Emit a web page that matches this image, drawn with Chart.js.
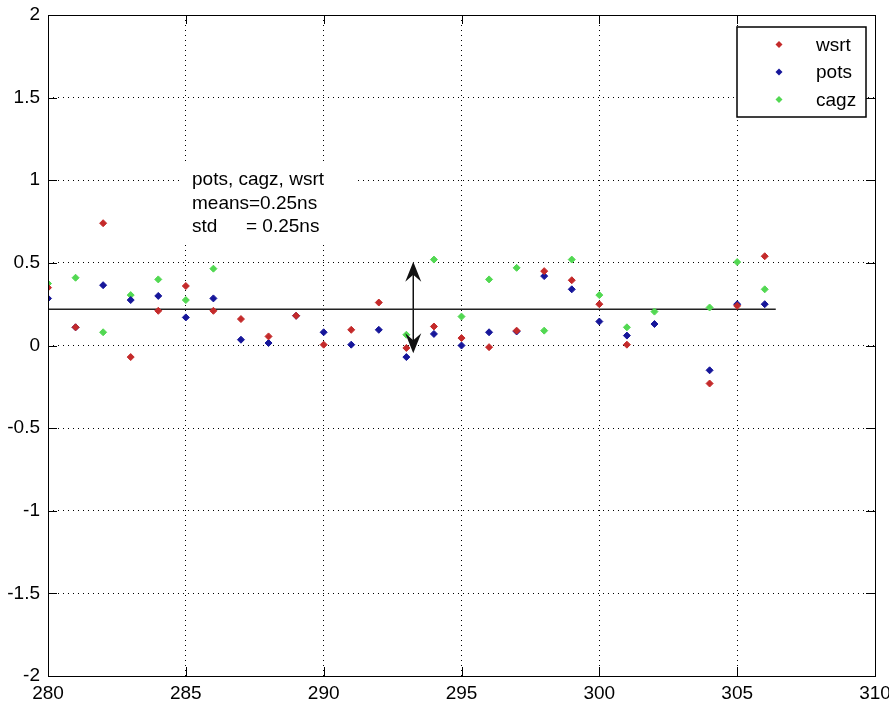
<!DOCTYPE html>
<html>
<head>
<meta charset="utf-8">
<script src="https://cdn.jsdelivr.net/npm/chart.js@4.4.1/dist/chart.umd.min.js"></script>
<style>
  html, body { margin: 0; padding: 0; background: #fff; }
  #wrap { width: 889px; height: 704px; }
</style>
</head>
<body>
<div id="wrap"><canvas id="offsetChart"></canvas></div>
<script>
// run numbers on the x axis
var runs = [280, 281, 282, 283, 284, 285, 286, 287, 288, 289, 290, 291, 292, 293,
            294, 295, 296, 297, 298, 299, 300, 301, 302, 303, 304, 305, 306];

// offsets per station (ns), null where a station has no value
var wsrt = [0.35, 0.11, 0.74, -0.07, 0.21, 0.36, 0.21, 0.16, 0.055, 0.18, 0.005, 0.095, 0.26, -0.015,
            0.115, 0.045, -0.01, 0.09, 0.45, 0.395, 0.25, 0.005, null, null, -0.23, 0.24, 0.54];
var pots = [0.285, 0.11, 0.365, 0.275, 0.30, 0.17, 0.285, 0.035, 0.015, 0.18, 0.08, 0.005, 0.095, -0.07,
            0.07, 0.0, 0.08, 0.085, 0.42, 0.34, 0.145, 0.06, 0.13, null, -0.15, 0.25, 0.25];
var cagz = [0.375, 0.41, 0.08, 0.305, 0.40, 0.275, 0.465, null, null, null, null, null, null, 0.065,
            0.52, 0.175, 0.40, 0.47, 0.09, 0.52, 0.305, 0.11, 0.205, null, 0.23, 0.505, 0.34];

var xTicks = [280, 285, 290, 295, 300, 305, 310];
var yTicks = [-2, -1.5, -1, -0.5, 0, 0.5, 1, 1.5, 2];

// mean level line and the spread arrow
var meanLevel = 0.22;
var meanFrom = 280, meanTo = 306.4;
var arrowX = 293.25, arrowLow = -0.047, arrowHigh = 0.507;

var noteLines = ['pots, cagz, wsrt', 'means=0.25ns', 'std', '= 0.25ns'];

function points(values) {
  var out = [];
  runs.forEach(function(x, i) {
    if (values[i] !== null) out.push({ x: x, y: values[i] });
  });
  return out;
}

function marker(label, values, color) {
  return {
    label: label,
    data: points(values),
    backgroundColor: color,
    borderColor: color,
    borderWidth: 1,
    pointStyle: 'rectRot',
    pointRadius: 3.5,
    showLine: false
  };
}

var FONT = "'Liberation Sans', Arial, sans-serif";

var framePlugin = {
  id: 'frame',
  beforeDatasetsDraw: function(chart) {
    // white box behind the note text
    var ctx = chart.ctx;
    ctx.save();
    ctx.fillStyle = '#fff';
    ctx.fillRect(183, 163, 174, 80);
    ctx.restore();
  },
  afterDatasetsDraw: function(chart) {
    var ctx = chart.ctx, xs = chart.scales.x, ys = chart.scales.y;
    ctx.save();

    // arrow heads at both ends of the spread arrow
    var ax = xs.getPixelForValue(arrowX);
    var top = ys.getPixelForValue(arrowHigh);
    var bot = ys.getPixelForValue(arrowLow);
    ctx.fillStyle = '#111';
    function head(tipY, dir) {
      ctx.beginPath();
      ctx.moveTo(ax, tipY);
      ctx.lineTo(ax - 8, tipY + dir * 20);
      ctx.lineTo(ax, tipY + dir * 13);
      ctx.lineTo(ax + 8, tipY + dir * 20);
      ctx.closePath();
      ctx.fill();
    }
    head(top, 1);
    head(bot, -1);

    // note text
    ctx.fillStyle = '#000';
    ctx.font = '19px ' + FONT;
    ctx.textBaseline = 'alphabetic';
    ctx.textAlign = 'left';
    ctx.fillText(noteLines[0], 192, 185);
    ctx.fillText(noteLines[1], 192, 208.5);
    ctx.fillText(noteLines[2], 192, 232);
    ctx.fillText(noteLines[3], 246, 232);
    ctx.restore();
  },
  afterDraw: function(chart) {
    var ctx = chart.ctx, a = chart.chartArea;
    var xs = chart.scales.x, ys = chart.scales.y;
    ctx.save();
    ctx.strokeStyle = '#000';
    ctx.lineWidth = 1;
    ctx.strokeRect(Math.round(a.left) + 0.5, Math.round(a.top) + 0.5,
                   Math.round(a.right - a.left), Math.round(a.bottom - a.top));

    // inward tick marks on all four sides
    var tl = 9;
    ctx.beginPath();
    xTicks.forEach(function(v) {
      var px = Math.round(xs.getPixelForValue(v)) + 0.5;
      ctx.moveTo(px, a.bottom); ctx.lineTo(px, a.bottom - tl);
      ctx.moveTo(px, a.top); ctx.lineTo(px, a.top + tl);
    });
    yTicks.forEach(function(v) {
      var py = Math.round(ys.getPixelForValue(v)) + 0.5;
      ctx.moveTo(a.left, py); ctx.lineTo(a.left + tl, py);
      ctx.moveTo(a.right, py); ctx.lineTo(a.right - tl, py);
    });
    ctx.stroke();

    // legend box in the upper right corner
    var lx = 737, ly = 27, lw = 129, lh = 90;
    ctx.fillStyle = '#fff';
    ctx.fillRect(lx, ly, lw, lh);
    ctx.lineWidth = 1.5;
    ctx.strokeRect(lx, ly, lw, lh);
    ctx.font = '19px ' + FONT;
    ctx.textBaseline = 'middle';
    ctx.textAlign = 'left';
    var rows = [44.5, 72, 99.5];
    for (var i = 0; i < 3; i++) {
      var ds = chart.data.datasets[i];
      ctx.fillStyle = ds.backgroundColor;
      ctx.beginPath();
      ctx.moveTo(779, rows[i] - 3.5);
      ctx.lineTo(782.5, rows[i]);
      ctx.lineTo(779, rows[i] + 3.5);
      ctx.lineTo(775.5, rows[i]);
      ctx.closePath();
      ctx.fill();
      ctx.fillStyle = '#000';
      ctx.fillText(ds.label, 816, rows[i] + 1);
    }
    ctx.restore();
  }
};

document.addEventListener('DOMContentLoaded', function() {
  var ctx = document.getElementById('offsetChart').getContext('2d');
  var grid = {
    color: '#000',
    lineWidth: 1,
    drawTicks: false
  };
  new Chart(ctx, {
    type: 'scatter',
    data: {
      datasets: [
        marker('wsrt', wsrt, '#c42a2a'),
        marker('pots', pots, '#16169a'),
        marker('cagz', cagz, '#52d852'),
        {
          type: 'line',
          label: 'mean',
          data: [{ x: meanFrom, y: meanLevel }, { x: meanTo, y: meanLevel }],
          borderColor: '#222',
          borderWidth: 1.5,
          pointRadius: 0
        },
        {
          type: 'line',
          label: 'spread',
          data: [{ x: arrowX, y: arrowLow + 0.05 }, { x: arrowX, y: arrowHigh - 0.05 }],
          borderColor: '#111',
          borderWidth: 1.5,
          pointRadius: 0
        }
      ]
    },
    options: {
      responsive: true,
      maintainAspectRatio: false,
      animation: false,
      layout: { padding: { left: 0, right: 14, top: 15, bottom: 0 } },
      plugins: {
        legend: { display: false },
        tooltip: { enabled: false }
      },
      scales: {
        x: {
          type: 'linear',
          min: 280,
          max: 310,
          afterBuildTicks: function(s) { s.ticks = xTicks.map(function(v) { return { value: v }; }); },
          afterFit: function(s) { s.height = 28; s.paddingLeft = 0; s.paddingRight = 0; },
          grid: Object.assign({ borderDash: [1, 4] }, grid),
          border: { display: false, dash: [1, 4] },
          ticks: {
            color: '#000', padding: 6, maxRotation: 0,
            font: { family: FONT, size: 19 },
            callback: function(v) { return String(v); }
          }
        },
        y: {
          type: 'linear',
          min: -2,
          max: 2,
          afterBuildTicks: function(s) { s.ticks = yTicks.map(function(v) { return { value: v }; }); },
          afterFit: function(s) { s.width = 48; s.paddingTop = 0; s.paddingBottom = 0; },
          grid: grid,
          border: { display: false, dash: [1, 4] },
          ticks: {
            color: '#000', padding: 8,
            font: { family: FONT, size: 19 },
            callback: function(v) { return String(v); }
          }
        }
      }
    },
    plugins: [framePlugin]
  });
});
</script>
</body>
</html>
